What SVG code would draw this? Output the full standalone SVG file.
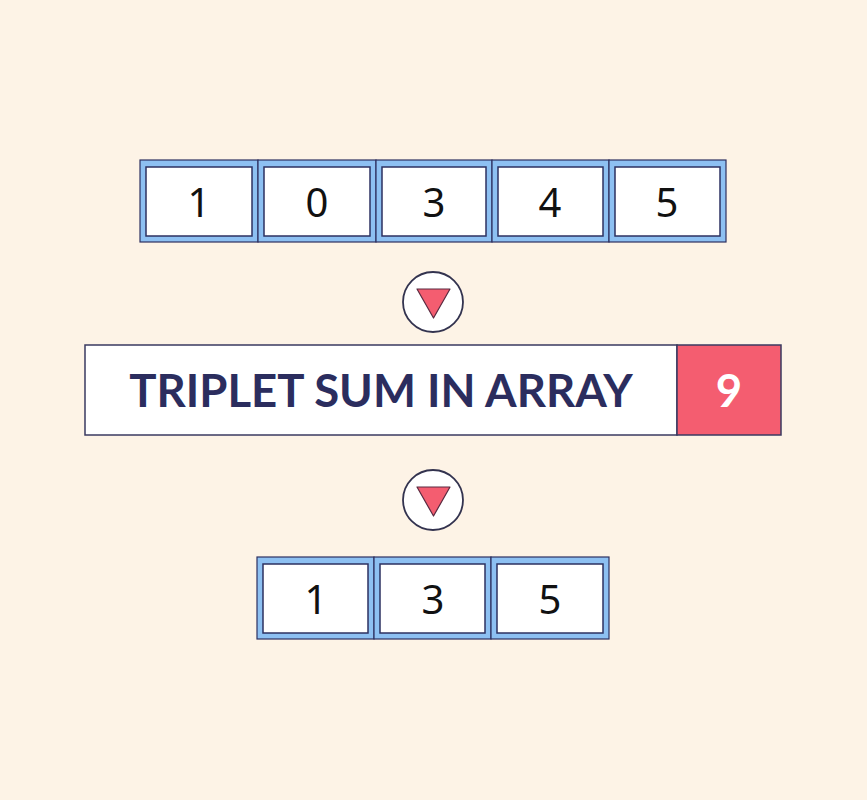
<svg xmlns="http://www.w3.org/2000/svg" width="867" height="800" viewBox="0 0 867 800">
<style>
.cell{fill:#8dc0f2;stroke:#2d3060;stroke-width:1.2}
.inner{fill:#ffffff;stroke:#2d3060;stroke-width:1.5}
.num{font-family:"Noto Sans","Open Sans",sans-serif;font-size:40px;fill:#111111;text-anchor:middle}
.circ{fill:#ffffff;stroke:#33334f;stroke-width:1.8}
.tri{fill:#f45d70;stroke:#5a2a40;stroke-width:1.2;stroke-linejoin:round}
.big{font-family:Lato,"Open Sans",sans-serif;font-weight:bold;font-size:45.5px;text-anchor:middle}
</style>
<rect width="867" height="800" fill="#fdf3e6"/>
<g id="top-array">
<g id="t0"><rect class="cell" x="140" y="160" width="118" height="82"/><rect class="inner" x="146" y="167" width="106" height="69"/><text class="num" x="199" y="217">1</text></g>
<g id="t1"><rect class="cell" x="258" y="160" width="118" height="82"/><rect class="inner" x="264" y="167" width="106" height="69"/><text class="num" x="317" y="217">0</text></g>
<g id="t2"><rect class="cell" x="376" y="160" width="116" height="82"/><rect class="inner" x="382" y="167" width="104" height="69"/><text class="num" x="434" y="217">3</text></g>
<g id="t3"><rect class="cell" x="492" y="160" width="117" height="82"/><rect class="inner" x="498" y="167" width="105" height="69"/><text class="num" x="550" y="217">4</text></g>
<g id="t4"><rect class="cell" x="609" y="160" width="117" height="82"/><rect class="inner" x="615" y="167" width="105" height="69"/><text class="num" x="667" y="217">5</text></g>
</g>
<g id="arrow1"><circle class="circ" cx="433" cy="302" r="30"/><polygon class="tri" points="417,289 450,289 433.5,318"/></g>
<g id="title">
<rect x="85" y="345" width="592" height="90" fill="#ffffff" stroke="#3a3a60" stroke-width="1.5"/>
<text class="big" x="381" y="407" fill="#2b2d5e">TRIPLET SUM IN ARRAY</text>
</g>
<g id="target">
<rect x="677" y="345" width="104" height="90" fill="#f45d70" stroke="#3a3a60" stroke-width="1.5"/>
<text class="big" x="729" y="407" fill="#ffffff">9</text>
</g>
<g id="arrow2"><circle class="circ" cx="433" cy="500" r="30"/><polygon class="tri" points="417,487 450,487 433.5,516"/></g>
<g id="bottom-array">
<g id="b0"><rect class="cell" x="257" y="557" width="117" height="82"/><rect class="inner" x="263" y="564" width="105" height="69"/><text class="num" x="316" y="614">1</text></g>
<g id="b1"><rect class="cell" x="374" y="557" width="117" height="82"/><rect class="inner" x="380" y="564" width="105" height="69"/><text class="num" x="433" y="614">3</text></g>
<g id="b2"><rect class="cell" x="491" y="557" width="118" height="82"/><rect class="inner" x="497" y="564" width="106" height="69"/><text class="num" x="550" y="614">5</text></g>
</g>
</svg>
